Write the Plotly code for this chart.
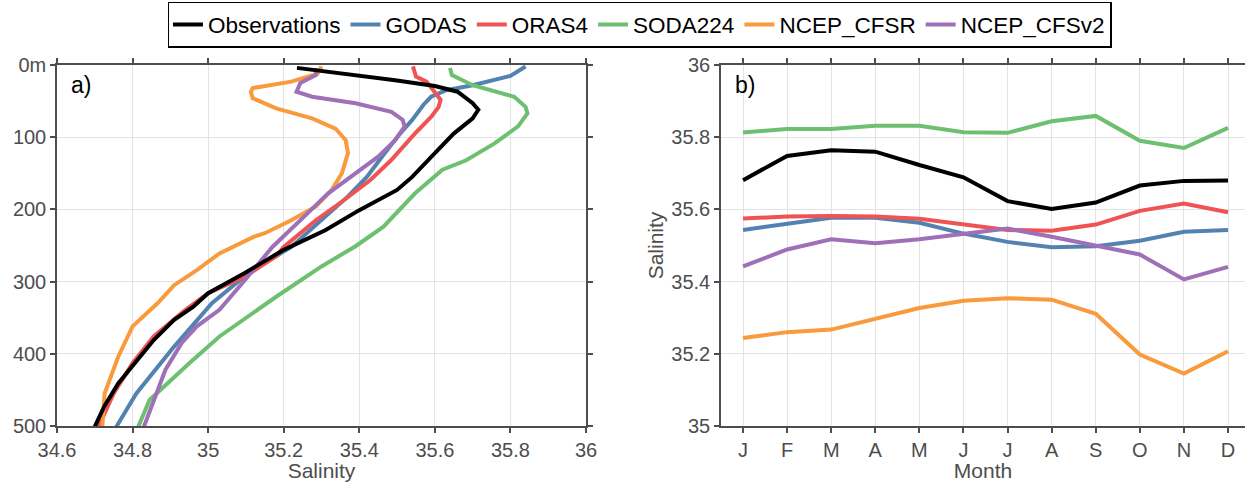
import plotly.graph_objects as go

# ---------------- data ----------------
series_names = ["Observations", "GODAS", "ORAS4", "SODA224", "NCEP_CFSR", "NCEP_CFSv2"]
series_colors = ["#000000", "#5283b0", "#ef5354", "#6cc070", "#f99a3c", "#9f6fb7"]

# Panel a) : salinity profiles (salinity, depth in m)
obs_sal   = [35.235, 35.40, 35.495, 35.60, 35.66, 35.70, 35.715, 35.70, 35.68, 35.65, 35.60, 35.54, 35.50, 35.40, 35.31, 35.20, 35.097, 35.00, 34.96, 34.91, 34.856, 34.804, 34.762, 34.725, 34.70]
obs_dep   = [4, 14, 21, 29, 37, 53, 62, 74, 83, 95, 122, 155, 173, 201, 229, 256, 288, 316, 335, 353, 381, 413, 441, 473, 501]

godas_sal = [35.84, 35.80, 35.70, 35.63, 35.59, 35.57, 35.54, 35.505, 35.46, 35.42, 35.37, 35.30, 35.22, 35.107, 35.01, 34.91, 34.81, 34.757]
godas_dep = [2, 15, 28, 35, 44, 55, 76, 97, 127, 155, 182, 215, 252, 288, 330, 390, 455, 501]

oras_sal  = [35.542, 35.55, 35.578, 35.60, 35.615, 35.61, 35.59, 35.547, 35.484, 35.43, 35.36, 35.285, 35.20, 35.18, 35.097, 35.00, 34.94, 34.856, 34.80, 34.75, 34.71]
oras_dep  = [2, 16, 23, 39, 48, 58, 72, 95, 132, 159, 187, 215, 252, 265, 293, 316, 339, 376, 413, 455, 501]

soda_sal  = [35.64, 35.645, 35.70, 35.81, 35.84, 35.845, 35.82, 35.757, 35.683, 35.62, 35.547, 35.464, 35.39, 35.30, 35.18, 35.03, 34.95, 34.88, 34.845, 34.815]
soda_dep  = [4, 14, 28, 44, 58, 67, 85, 109, 132, 145, 178, 224, 251, 279, 321, 376, 413, 448, 464, 501]

cfsr_sal  = [35.30, 35.29, 35.22, 35.118, 35.113, 35.118, 35.18, 35.275, 35.337, 35.364, 35.37, 35.354, 35.327, 35.285, 35.22, 35.15, 35.12, 35.03, 34.97, 34.91, 34.866, 34.80, 34.762, 34.726, 34.72]
cfsr_dep  = [2, 12, 23, 32, 37, 46, 60, 74, 88, 104, 122, 150, 173, 196, 215, 233, 238, 261, 284, 305, 330, 362, 404, 455, 501]

cfsv2_sal = [35.285, 35.285, 35.244, 35.234, 35.275, 35.39, 35.485, 35.515, 35.52, 35.495, 35.45, 35.39, 35.317, 35.254, 35.17, 35.097, 35.03, 34.97, 34.93, 34.887, 34.856, 34.83]
cfsv2_dep = [4, 14, 25, 37, 44, 53, 65, 76, 85, 104, 127, 150, 178, 210, 252, 298, 339, 362, 385, 422, 464, 501]

profile_sal = [obs_sal, godas_sal, oras_sal, soda_sal, cfsr_sal, cfsv2_sal]
profile_dep = [obs_dep, godas_dep, oras_dep, soda_dep, cfsr_dep, cfsv2_dep]

# Panel b) : monthly salinity
months = ["J", "F", "M", "A", "M", "J", "J", "A", "S", "O", "N", "D"]
month_idx = list(range(1, 13))
obs_month   = [35.681, 35.748, 35.764, 35.760, 35.723, 35.689, 35.623, 35.601, 35.619, 35.666, 35.679, 35.680]
godas_month = [35.543, 35.559, 35.577, 35.577, 35.563, 35.533, 35.510, 35.495, 35.498, 35.513, 35.538, 35.543]
oras_month  = [35.575, 35.580, 35.582, 35.580, 35.574, 35.558, 35.543, 35.541, 35.558, 35.596, 35.616, 35.592]
soda_month  = [35.813, 35.823, 35.823, 35.832, 35.832, 35.814, 35.812, 35.844, 35.859, 35.790, 35.770, 35.826]
cfsr_month  = [35.244, 35.260, 35.267, 35.297, 35.327, 35.347, 35.354, 35.350, 35.311, 35.198, 35.145, 35.207]
cfsv2_month = [35.442, 35.489, 35.517, 35.506, 35.517, 35.533, 35.547, 35.524, 35.499, 35.475, 35.406, 35.441]
monthly = [obs_month, godas_month, oras_month, soda_month, cfsr_month, cfsv2_month]

sal_ticks_a = [34.6, 34.8, 35.0, 35.2, 35.4, 35.6, 35.8, 36.0]
sal_ticktext_a = ["34.6", "34.8", "35", "35.2", "35.4", "35.6", "35.8", "36"]
depth_ticks = [0, 100, 200, 300, 400, 500]
depth_ticktext = ["0m", "100", "200", "300", "400", "500"]
sal_ticks_b = [35.0, 35.2, 35.4, 35.6, 35.8, 36.0]
sal_ticktext_b = ["35", "35.2", "35.4", "35.6", "35.8", "36"]

# ---------------- figure ----------------
FONT = "Liberation Sans, Arial"
TICKC = "#4d4d4d"
fig = go.Figure()

order = [1, 2, 3, 4, 5, 0]  # observations drawn on top
for i in order:
    fig.add_trace(go.Scatter(x=profile_sal[i], y=profile_dep[i], mode="lines",
                             line=dict(color=series_colors[i], width=4),
                             name=series_names[i], legendgroup=series_names[i],
                             showlegend=False, xaxis="x", yaxis="y"))
for i in order:
    fig.add_trace(go.Scatter(x=month_idx, y=monthly[i], mode="lines",
                             line=dict(color=series_colors[i], width=4),
                             name=series_names[i], legendgroup=series_names[i],
                             showlegend=False, xaxis="x2", yaxis="y2"))
for i in range(6):
    fig.add_trace(go.Scatter(x=[None], y=[None], mode="lines",
                             line=dict(color=series_colors[i], width=4),
                             name=series_names[i], legendgroup=series_names[i],
                             showlegend=True, xaxis="x2", yaxis="y2"))

def axis_common(mirror="ticks"):
    return dict(showline=True, linecolor=TICKC, linewidth=1.5, mirror=mirror,
                ticks="outside", ticklen=5, tickwidth=1.5, tickcolor=TICKC,
                showgrid=True, gridcolor="#e3e3e3", gridwidth=1, zeroline=False,
                automargin=False,
                tickfont=dict(family=FONT, size=20, color=TICKC))

TITLE_FONT = dict(family=FONT, size=21, color=TICKC)

fig.update_layout(
    width=1245, height=482,
    margin=dict(l=57, r=0, t=65, b=56, autoexpand=False),
    paper_bgcolor="white", plot_bgcolor="white",
    font=dict(family=FONT, color=TICKC),
    xaxis=dict(domain=[0, 0.4453], range=[34.6, 36.0], tickvals=sal_ticks_a, ticktext=sal_ticktext_a,
               title=dict(text="Salinity", font=TITLE_FONT, standoff=0),
               anchor="y", **axis_common()),
    yaxis=dict(domain=[0, 1], range=[500, 0], tickvals=depth_ticks, ticktext=depth_ticktext,
               anchor="x", **axis_common()),
    xaxis2=dict(domain=[0.5589, 1], range=[0.5, 12.385], tickvals=month_idx, ticktext=months,
                title=dict(text="Month", font=TITLE_FONT, standoff=0),
                anchor="y2", **axis_common()),
    yaxis2=dict(domain=[0, 1], range=[35.0, 36.0], tickvals=sal_ticks_b, ticktext=sal_ticktext_b,
                title=dict(text="Salinity", font=TITLE_FONT, standoff=2),
                anchor="x2", **axis_common(mirror=False)),
    legend=dict(orientation="h", x=0.4907, xanchor="center", y=1.175, yanchor="top",
                bordercolor="black", borderwidth=1.5, bgcolor="white",
                font=dict(family=FONT, size=22.5, color="black"),
                itemwidth=30, tracegroupgap=0),
    annotations=[
        dict(text="a)", xref="paper", yref="paper", x=0.01, y=0.985, xanchor="left", yanchor="top",
             showarrow=False, font=dict(family=FONT, size=23, color="black")),
        dict(text="b)", xref="paper", yref="paper", x=0.5689, y=0.985, xanchor="left", yanchor="top",
             showarrow=False, font=dict(family=FONT, size=23, color="black")),
    ],
)

fig.write_html("out.html", config={"displayModeBar": False},
               post_script="document.body.style.margin='0px';document.body.style.padding='0px';")
